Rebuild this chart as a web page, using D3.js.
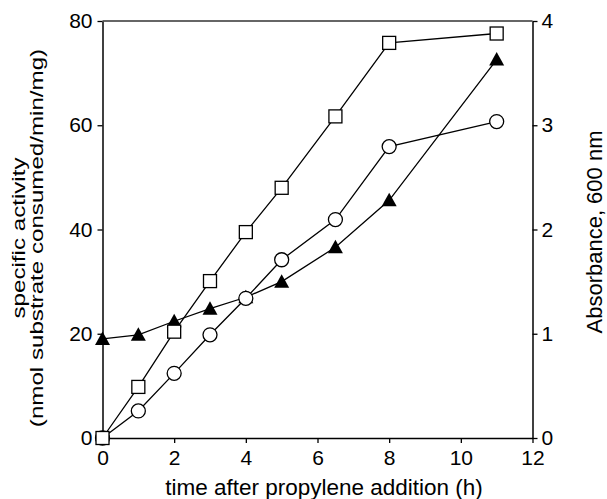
<!DOCTYPE html>
<html>
<head>
  <meta charset="utf-8">
  <script src="https://d3js.org/d3.v7.min.js"></script>
  <style>
    body { margin: 0; background: #fff; }
    text { font-family: "Liberation Sans", Arial, Helvetica, sans-serif; fill: #000; }
  </style>
</head>
<body>
<script>
  // data
  var hours = [0, 1, 2, 3, 4, 5, 6.5, 8, 11];
  var squareActivity = [0, 9.8, 20.4, 30.1, 39.5, 48.0, 61.7, 75.8, 77.6];
  var circleActivity = [0, 5.2, 12.4, 19.8, 26.8, 34.2, 41.9, 55.9, 60.7];
  var absorbance = [0.95, 0.99, 1.12, 1.24, 1.35, 1.50, 1.83, 2.28, 3.63];

  var xTicks = [0, 2, 4, 6, 8, 10, 12];
  var leftTicks = [0, 20, 40, 60, 80];
  var rightTicks = [0, 1, 2, 3, 4];

  function draw() {
    var width = 607, height = 499;
    var pLeft = 102.5, pRight = 532.5, pTop = 21, pBottom = 438;

    var svg = d3.select("body").append("svg")
        .attr("width", width)
        .attr("height", height);

    var x = d3.scaleLinear().domain([0, 12]).range([pLeft, pRight]);
    var yL = d3.scaleLinear().domain([0, 80]).range([pBottom, pTop]);
    var yR = d3.scaleLinear().domain([0, 4]).range([pBottom, pTop]);

    // axes
    svg.append("g")
        .attr("transform", "translate(0," + pBottom + ")")
        .call(d3.axisBottom(x).tickValues(xTicks).tickFormat(d3.format("d"))
          .tickSize(5).tickSizeOuter(0).tickPadding(7));
    svg.append("g")
        .attr("transform", "translate(" + pLeft + ",0)")
        .call(d3.axisLeft(yL).tickValues(leftTicks).tickFormat(d3.format("d"))
          .tickSize(5).tickSizeOuter(0).tickPadding(5));
    svg.append("g")
        .attr("transform", "translate(" + pRight + ",0)")
        .call(d3.axisRight(yR).tickValues(rightTicks).tickFormat(d3.format("d"))
          .tickSize(5).tickSizeOuter(0).tickPadding(4));

    svg.selectAll(".domain").attr("stroke", "#000").attr("stroke-width", 1.5);
    svg.selectAll(".tick line").attr("stroke", "#000").attr("stroke-width", 1.3);
    svg.selectAll(".tick text")
        .style("font-size", "21px")
        .attr("fill", "#000");

    // top border
    svg.append("line")
        .attr("x1", pLeft).attr("x2", pRight)
        .attr("y1", pTop).attr("y2", pTop)
        .attr("stroke", "#333").attr("stroke-width", 1.5);

    // lines
    var lineA = d3.line().x(function (d, i) { return x(hours[i]); }).y(function (d) { return yL(d); });
    var lineR = d3.line().x(function (d, i) { return x(hours[i]); }).y(function (d) { return yR(d); });

    [squareActivity, circleActivity].forEach(function (s) {
      svg.append("path").datum(s)
          .attr("d", lineA)
          .attr("fill", "none").attr("stroke", "#000").attr("stroke-width", 1.3);
    });
    svg.append("path").datum(absorbance)
        .attr("d", lineR)
        .attr("fill", "none").attr("stroke", "#000").attr("stroke-width", 1.3);

    // markers: triangles, circles, squares (squares on top)
    svg.selectAll(".tri").data(absorbance).enter().append("path")
        .attr("class", "tri")
        .attr("transform", function (d, i) { return "translate(" + x(hours[i]) + "," + yR(d) + ")"; })
        .attr("d", "M0,-7.5L7.5,6L-7.5,6Z")
        .attr("fill", "#000");

    svg.selectAll(".circ").data(circleActivity).enter().append("circle")
        .attr("class", "circ")
        .attr("cx", function (d, i) { return x(hours[i]); })
        .attr("cy", function (d) { return yL(d); })
        .attr("r", 7)
        .attr("fill", "#fff").attr("stroke", "#000").attr("stroke-width", 1.3);

    svg.selectAll(".sq").data(squareActivity).enter().append("rect")
        .attr("class", "sq")
        .attr("x", function (d, i) { return x(hours[i]) - 6.5; })
        .attr("y", function (d) { return yL(d) - 6.5; })
        .attr("width", 13).attr("height", 13)
        .attr("fill", "#fff").attr("stroke", "#000").attr("stroke-width", 1.3);

    // axis titles
    svg.append("text")
        .attr("x", 324).attr("y", 495)
        .attr("text-anchor", "middle")
        .style("font-size", "22.5px")
        .text("time after propylene addition (h)");

    svg.append("text")
        .attr("transform", "translate(602,232) rotate(-90)")
        .attr("text-anchor", "middle")
        .style("font-size", "22px")
        .text("Absorbance, 600 nm");

    svg.append("text")
        .attr("transform", "translate(25,238) rotate(-90) scale(1.38,1)")
        .attr("text-anchor", "middle")
        .style("font-size", "17.5px")
        .text("specific activity");
    svg.append("text")
        .attr("transform", "translate(42.5,238) rotate(-90) scale(1.38,1)")
        .attr("text-anchor", "middle")
        .style("font-size", "17.5px")
        .text("(nmol substrate consumed/min/mg)");
  }

  draw();
</script>
</body>
</html>
